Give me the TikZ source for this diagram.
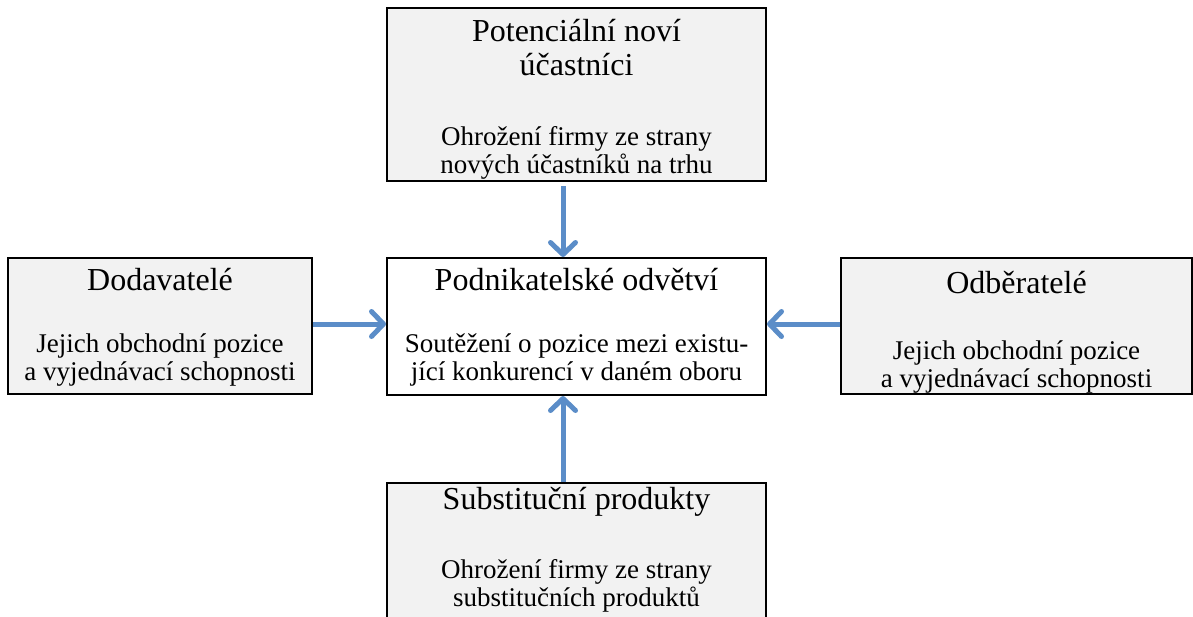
\documentclass[tikz,border=0pt]{standalone}
\usepackage{fontspec}
\setmainfont{Liberation Serif}
\usetikzlibrary{arrows.meta}
\definecolor{boxgray}{HTML}{F2F2F2}
\definecolor{arrowblue}{HTML}{5B8DC8}
\tikzset{
  box/.style={draw=black, line width=2pt, fill=boxgray, inner sep=0pt},
  whitebox/.style={box, fill=white},
  ttl/.style={inner sep=0pt, align=center, font=\fontsize{32}{34}\selectfont},
  bdy/.style={inner sep=0pt, align=center, font=\fontsize{27}{28}\selectfont},
  flow/.style={draw=arrowblue, line width=5pt, -{Straight Barb[length=12pt, width=25pt, round]}},
}
\begin{document}
\begin{tikzpicture}[x=1pt, y=-1pt]
\useasboundingbox (0,0) rectangle (1193,616);
\clip (0,0) rectangle (1193,616);
% boxes
\node[box, minimum width=379pt, minimum height=173pt] (top) at (576.5,94.5) {};
\node[whitebox, minimum width=379pt, minimum height=137pt] (mid) at (576.5,326.5) {};
\node[box, minimum width=304pt, minimum height=136pt] (left) at (160,326) {};
\node[box, minimum width=351pt, minimum height=136pt] (right) at (1016.5,326) {};
\node[box, minimum width=379pt, minimum height=180pt] (bot) at (576.5,573) {};
% texts
\node[ttl] (topt) at (576.5,48) {Potenciální noví\\účastníci};
\node[bdy] (topb) at (576.5,153) {Ohrožení firmy ze strany\\nových účastníků na trhu};
\node[ttl] (midt) at (576.5,280) {Podnikatelské odvětví};
\node[bdy] (midb) at (576.5,360) {Soutěžení o pozice mezi existu-\\jící konkurencí v daném oboru};
\node[ttl] (leftt) at (160,280) {Dodavatelé};
\node[bdy] (leftb) at (160,360) {Jejich obchodní pozice\\a vyjednávací schopnosti};
\node[ttl] (rightt) at (1016.5,283) {Odběratelé};
\node[bdy] (rightb) at (1016.5,367) {Jejich obchodní pozice\\a vyjednávací schopnosti};
\node[ttl] (bott) at (576.5,502) {Substituční produkty};
\node[bdy] (botb) at (576.5,586) {Ohrožení firmy ze strany\\substitučních produktů};
% connectors
\coordinate (ax) at (563,0);
\coordinate (ay) at (0,324);
\draw[flow, shorten <=4pt] (top.south -| ax) -- (mid.north -| ax);
\draw[flow] (bot.north -| ax) -- (mid.south -| ax);
\draw[flow] (left.east |- ay) -- (mid.west |- ay);
\draw[flow] (right.west |- ay) -- (mid.east |- ay);
\end{tikzpicture}
\end{document}
